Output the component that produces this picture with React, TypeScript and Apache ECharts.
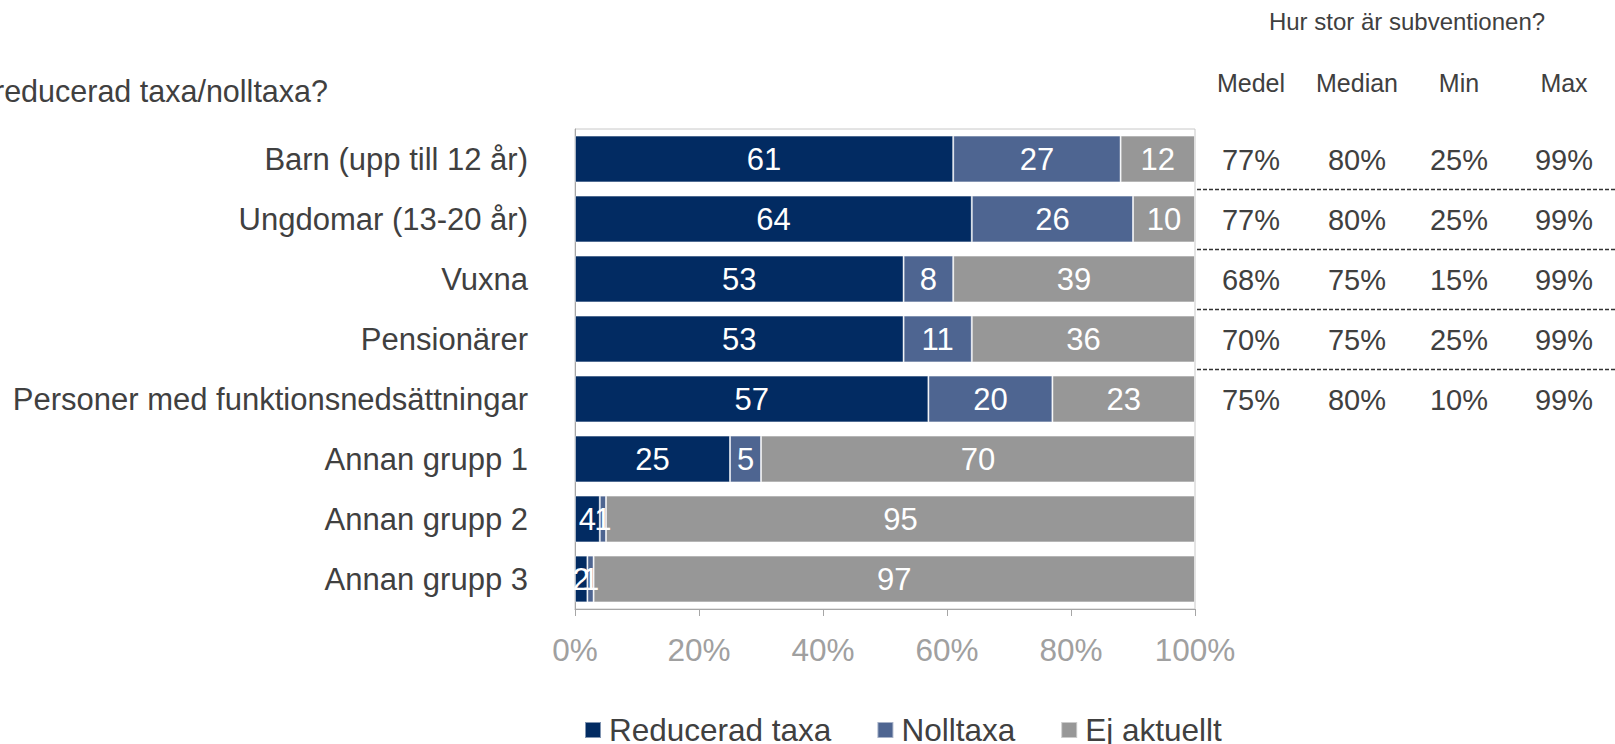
import React, { useEffect, useRef } from "react";
import * as echarts from "echarts";

const categories = [
  "Barn (upp till 12 år)",
  "Ungdomar (13-20 år)",
  "Vuxna",
  "Pensionärer",
  "Personer med funktionsnedsättningar",
  "Annan grupp 1",
  "Annan grupp 2",
  "Annan grupp 3",
];
const reducerad = [61, 64, 53, 53, 57, 25, 4, 2];
const nolltaxa = [27, 26, 8, 11, 20, 5, 1, 1];
const ejAktuellt = [12, 10, 39, 36, 23, 70, 95, 97];
const seriesNames = ["Reducerad taxa", "Nolltaxa", "Ej aktuellt"];

const chartTitle = "reducerad taxa/nolltaxa?";
const tableTitle = "Hur stor är subventionen?";
const tableHeaders = ["Medel", "Median", "Min", "Max"];
const medel = [77, 77, 68, 70, 75];
const median = [80, 80, 75, 75, 80];
const minVal = [25, 25, 15, 25, 10];
const maxVal = [99, 99, 99, 99, 99];

const FONT = "'Liberation Sans', Arial, sans-serif";
const COLORS = ["#022B62", "#4E6591", "#979797"];
const TEXT = "#404040";
const colX = [1251, 1357, 1459, 1564];

export default function App() {
  const ref = useRef<HTMLDivElement>(null);
  useEffect(() => {
    if (!ref.current) return;
    const chart = echarts.init(ref.current, null, { renderer: "svg" });
    const mk = (name: string, data: number[], i: number) => ({
      name,
      type: "bar",
      stack: "total",
      data,
      barCategoryGap: "22%",
      itemStyle: { color: COLORS[i], borderColor: "rgba(255,255,255,0.5)", borderWidth: 1 },
      label: {
        show: true,
        position: "inside",
        color: "#ffffff",
        fontSize: 31,
        fontFamily: FONT,
        formatter: "{c}",
      },
    });
    chart.setOption({
      animation: false,
      backgroundColor: "#ffffff",
      textStyle: { fontFamily: FONT },
      grid: {
        left: 575,
        right: 420,
        top: 129,
        bottom: 135,
        show: true,
        borderColor: "#C8C8C8",
        borderWidth: 1,
      },
      legend: {
        data: seriesNames,
        icon: "rect",
        itemWidth: 16,
        itemHeight: 16,
        itemGap: 45,
        padding: 0,
        left: 584,
        top: 714,
        textStyle: { fontSize: 31.5, color: TEXT, fontFamily: FONT, padding: [0, 0, 0, 3] },
      },
      xAxis: {
        type: "value",
        min: 0,
        max: 100,
        interval: 20,
        splitLine: { show: false },
        axisLine: { show: true, lineStyle: { color: "#A6A6A6", width: 1 } },
        axisTick: { show: true, length: 7, lineStyle: { color: "#A6A6A6" } },
        axisLabel: {
          formatter: "{value}%",
          fontSize: 31.5,
          color: "#A0A0A0",
          margin: 25,
          fontFamily: FONT,
        },
      },
      yAxis: {
        type: "category",
        inverse: true,
        data: categories,
        axisLine: { show: true, lineStyle: { color: "#A6A6A6", width: 1 } },
        axisTick: { show: false },
        axisLabel: { fontSize: 31, color: TEXT, margin: 47, fontFamily: FONT },
      },
      series: [
        mk(seriesNames[0], reducerad, 0),
        mk(seriesNames[1], nolltaxa, 1),
        mk(seriesNames[2], ejAktuellt, 2),
      ],
    });

    const rowY = categories.map((c) => chart.convertToPixel({ yAxisIndex: 0 }, c) as number);
    const cols = [medel, median, minVal, maxVal];
    const graphics: any[] = [];
    graphics.push({
      type: "text",
      x: 328,
      y: 91,
      style: { text: chartTitle, font: `30.5px ${FONT}`, fill: TEXT, textAlign: "right", textVerticalAlign: "middle" },
    });
    graphics.push({
      type: "text",
      x: 1407,
      y: 21,
      style: { text: tableTitle, font: `24px ${FONT}`, fill: TEXT, textAlign: "center", textVerticalAlign: "middle" },
    });
    tableHeaders.forEach((h, j) => {
      graphics.push({
        type: "text",
        x: colX[j],
        y: 83,
        style: { text: h, font: `25px ${FONT}`, fill: TEXT, textAlign: "center", textVerticalAlign: "middle" },
      });
    });
    medel.forEach((_, i) => {
      cols.forEach((col, j) => {
        graphics.push({
          type: "text",
          x: colX[j],
          y: rowY[i] + 1,
          style: { text: col[i] + "%", font: `29px ${FONT}`, fill: TEXT, textAlign: "center", textVerticalAlign: "middle" },
        });
      });
      if (i < medel.length - 1) {
        const ym = Math.round((rowY[i] + rowY[i + 1]) / 2) + 0.5;
        graphics.push({
          type: "line",
          shape: { x1: 1197, y1: ym, x2: 1615, y2: ym },
          style: { stroke: "#333333", lineWidth: 1.6, lineDash: [4, 2] },
        });
      }
    });
    chart.setOption({ graphic: graphics });
    return () => chart.dispose();
  }, []);
  return (
    <div
      ref={ref}
      style={{ position: "fixed", left: 0, top: 0, width: 1615, height: 744, background: "#fff" }}
    />
  );
}
